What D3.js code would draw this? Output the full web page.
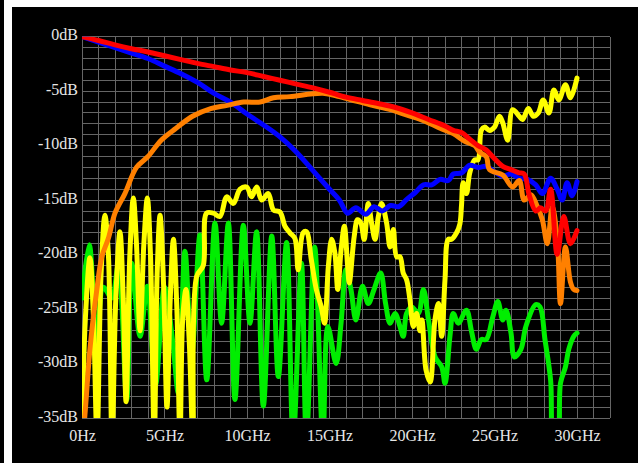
<!DOCTYPE html>
<html>
<head>
<meta charset="utf-8">
<script src="https://cdn.jsdelivr.net/npm/d3@7"></script>
<style>
  html, body { margin: 0; padding: 0; background: #fff; }
  svg { display: block; }
  .tick text { font-family: "Liberation Serif", "Times New Roman", serif; font-size: 16px; fill: #e6e6e6; }
</style>
</head>
<body>
<svg id="chart" width="644" height="463"></svg>
<script>
// Frequency (GHz) / magnitude (dB) pairs for each trace
const redTrace = [[0,0],[1,-0.35],[2,-0.75],[3,-1.1],[4,-1.4],[5,-1.75],[6,-2.1],[7,-2.45],[8,-2.75],[9,-3.05],[10,-3.3],[11,-3.65],[12,-4.0],[13,-4.35],[14,-4.7],[15,-5.1],[16,-5.55],[17,-5.85],[18,-6.15],[19,-6.5],[20,-7.0],[21,-7.6],[22,-8.2],[22.5,-8.6],[23,-8.8],[23.5,-9.4],[24,-10.0],[24.5,-10.4],[25,-11.2],[25.5,-11.9],[26,-12.2],[26.5,-12.5],[26.8,-12.6],[27.1,-14.5],[27.5,-16.0],[27.8,-15.7],[28.1,-16.0],[28.4,-14.0],[28.8,-20.0],[29.2,-16.5],[29.6,-19.0],[30,-17.8]];

const blueTrace = [[0,0],[1,-0.5],[2,-1.0],[3,-1.5],[4,-2.0],[5,-2.7],[6,-3.4],[7,-4.2],[8,-5.2],[9,-6.0],[10,-7.1],[11,-8.1],[12,-9.2],[13,-10.6],[14,-12.3],[15,-14.0],[15.6,-15.0],[16.1,-16.2],[16.6,-15.7],[17.2,-16.3],[17.7,-15.6],[18.2,-16.0],[18.7,-15.5],[19.2,-15.6],[19.7,-14.9],[20.2,-14.3],[20.7,-13.6],[21.2,-13.6],[21.7,-13.1],[22.2,-13.2],[22.5,-12.6],[23.0,-12.5],[23.5,-11.8],[24.0,-12.0],[24.5,-11.9],[25.0,-12.4],[25.5,-12.8],[26.0,-12.6],[26.5,-13.0],[27.0,-13.1],[27.5,-13.6],[27.9,-14.4],[28.4,-13.0],[28.8,-14.0],[29.1,-15.0],[29.4,-13.4],[29.7,-14.6],[30.0,-13.3]];

const orangeTrace = [[0.05,-37],[0.2,-34.3],[0.5,-28.4],[0.9,-23.2],[1.2,-20.2],[1.6,-18.5],[2.0,-16.2],[2.6,-14.4],[3.3,-12.0],[4.0,-11.0],[4.8,-9.5],[5.7,-8.4],[6.7,-7.3],[7.8,-6.6],[8.8,-6.3],[9.8,-6.0],[10.8,-6.0],[11.6,-5.6],[12.6,-5.5],[14.6,-5.2],[15.6,-5.5],[16.6,-5.9],[17.6,-6.3],[18.7,-6.7],[19.7,-7.2],[20.7,-7.7],[21.7,-8.4],[22.5,-8.9],[23.2,-9.6],[23.8,-10.0],[24.1,-10.6],[24.5,-11.0],[24.7,-12.2],[25.5,-12.7],[26.1,-13.8],[26.5,-13.2],[26.8,-15.0],[27.2,-14.5],[27.6,-15.6],[27.9,-16.8],[28.2,-19.0],[28.5,-15.6],[28.8,-18.5],[29.0,-24.5],[29.3,-19.3],[29.6,-22.5],[29.8,-23.2],[30.0,-23.3]];

const yellowTrace = [[0.0,-37],[0.2,-26],[0.48,-20.3],[0.7,-26],[0.91,-37],[1.15,-22],[1.39,-16.4],[1.6,-20],[1.82,-37],[2.05,-24],[2.3,-17.9],[2.5,-24],[2.67,-33.5],[2.9,-20],[3.11,-14.8],[3.3,-19],[3.52,-27],[3.75,-19],[3.96,-14.8],[4.15,-20],[4.38,-37],[4.55,-22],[4.73,-16.4],[4.95,-23],[5.15,-34],[5.35,-24],[5.54,-18.6],[5.75,-25],[5.94,-37],[6.1,-26],[6.3,-23.2],[6.5,-28],[6.73,-37],[6.95,-22.0],[7.35,-21.0],[7.55,-16.2],[7.96,-16.2],[8.36,-16.5],[8.77,-14.7],[9.17,-15.3],[9.58,-14.0],[9.98,-13.8],[10.28,-14.7],[10.58,-13.8],[10.89,-15.0],[11.29,-14.4],[11.6,-15.9],[12.0,-16.1],[12.3,-17.4],[12.6,-18.0],[12.9,-18.5],[13.1,-21.4],[13.4,-18.0],[13.6,-17.9],[13.9,-20.5],[14.2,-23.2],[14.5,-24.8],[14.7,-26.3],[14.93,-21.1],[15.13,-18.6],[15.33,-19.9],[15.5,-23.2],[15.7,-19.6],[15.9,-17.4],[16.1,-21.1],[16.2,-22.6],[16.5,-18.3],[16.7,-16.8],[16.9,-17.1],[17.1,-18.6],[17.35,-15.3],[17.55,-17.1],[17.76,-18.6],[17.96,-16.5],[18.16,-15.3],[18.46,-17.1],[18.67,-19.3],[18.87,-17.7],[19.07,-20.2],[19.27,-20.2],[19.47,-21.7],[19.67,-22.3],[19.88,-24.2],[20.08,-26.6],[20.28,-25.4],[20.48,-27.0],[20.6,-26.0],[20.85,-30.6],[21.1,-31.7],[21.39,-26.0],[21.6,-24.5],[21.8,-27.5],[22.0,-22.3],[22.2,-18.6],[22.4,-18.6],[22.7,-18.0],[22.9,-17.2],[23.0,-15.5],[23.1,-13.4],[23.3,-14.4],[23.5,-12.5],[23.8,-11.3],[24.0,-11.3],[24.2,-8.6],[24.4,-8.3],[24.7,-8.6],[25.0,-8.3],[25.3,-7.3],[25.5,-7.9],[25.8,-9.5],[26.1,-6.7],[26.5,-7.3],[26.7,-7.6],[27.05,-6.6],[27.35,-7.3],[27.65,-7.0],[27.95,-5.8],[28.3,-7.0],[28.6,-4.9],[28.9,-5.8],[29.3,-4.4],[29.6,-5.6],[30.0,-3.8]];

const greenTrace = [[0,-24],[0.44,-19.1],[0.89,-28],[1.3,-23],[1.8,-24],[2.2,-21],[2.71,-33.3],[3.01,-20.8],[3.52,-27.5],[3.96,-22.9],[4.45,-32],[5.0,-23],[5.5,-28],[5.84,-32.7],[6.24,-19.7],[6.65,-29],[7.15,-18.2],[7.56,-31.5],[8.06,-17.1],[8.46,-26.3],[8.87,-17.1],[9.27,-33.3],[9.78,-17.3],[10.18,-26.3],[10.58,-17.9],[10.99,-33.9],[11.5,-18.3],[11.9,-31.2],[12.4,-18.9],[12.8,-37],[13.3,-20.8],[13.6,-37],[14.1,-19.3],[14.6,-37],[14.9,-26.6],[15.4,-30.0],[15.7,-26.3],[16.0,-21.4],[16.3,-23.2],[16.6,-26.0],[17.0,-22.9],[17.35,-24.5],[17.7,-23.2],[18.1,-21.7],[18.4,-24.5],[18.67,-26.3],[18.97,-25.4],[19.27,-26.6],[19.47,-27.5],[19.67,-25.4],[19.98,-24.8],[20.38,-25.4],[20.69,-23.2],[21.0,-26.0],[21.4,-29.4],[21.8,-30.3],[22.0,-31.8],[22.3,-27.5],[22.5,-25.4],[22.8,-26.3],[23.3,-25.1],[23.6,-27.0],[23.9,-28.7],[24.2,-27.8],[24.5,-27.8],[24.9,-25.7],[25.2,-24.3],[25.5,-26.0],[25.7,-25.1],[26.0,-27.2],[26.2,-29.4],[26.6,-28.7],[26.9,-26.6],[27.5,-24.6],[27.76,-24.8],[28.06,-27.8],[28.4,-31.5],[28.6,-37],[28.8,-37],[29.0,-31.8],[29.3,-30.3],[29.5,-28.7],[29.8,-27.5],[30.0,-27.2]];

// Axis tick values and their labels
const xTickValues = [0, 5, 10, 15, 20, 25, 30];
const xTickLabels = ["0Hz", "5GHz", "10GHz", "15GHz", "20GHz", "25GHz", "30GHz"];
const yTickValues = [0, -5, -10, -15, -20, -25, -30, -35];
const yTickLabels = ["0dB", "-5dB", "-10dB", "-15dB", "-20dB", "-25dB", "-30dB", "-35dB"];

const svg = d3.select("#chart");

// Dark panel and the thin dark strip along the left edge
svg.append("rect").attr("x", 0).attr("y", 0).attr("width", 4).attr("height", 463).attr("fill", "#000");
svg.append("rect").attr("x", 12).attr("y", 7).attr("width", 626).attr("height", 456).attr("fill", "#000");

const plot = { left: 82, right: 610, top: 36.7, bottom: 418 };
const x = d3.scaleLinear().domain([0, 32]).range([plot.left, plot.right]);
const y = d3.scaleLinear().domain([0, -35]).range([plot.top, plot.bottom]);

// 1 GHz x 1 dB grid
const grid = svg.append("g").attr("stroke", "#666").attr("stroke-width", 1).attr("shape-rendering", "crispEdges");
grid.selectAll("line.v").data(d3.range(0, 33, 1)).join("line")
  .attr("class", "v")
  .attr("x1", d => x(d)).attr("x2", d => x(d))
  .attr("y1", plot.top).attr("y2", plot.bottom);
grid.selectAll("line.h").data(d3.range(0, -36, -1)).join("line")
  .attr("class", "h")
  .attr("x1", plot.left).attr("x2", plot.right)
  .attr("y1", d => y(d)).attr("y2", d => y(d));

// Axes (labels only)
const xAxis = d3.axisBottom(x).tickValues(xTickValues)
  .tickFormat((d, i) => xTickLabels[i]).tickSize(0).tickPadding(0);
svg.append("g").attr("transform", `translate(0,${plot.bottom + 12})`).call(xAxis)
  .call(g => g.select(".domain").remove())
  .selectAll("text").attr("dy", "0.71em");

const yAxis = d3.axisLeft(y).tickValues(yTickValues)
  .tickFormat((d, i) => yTickLabels[i]).tickSize(0).tickPadding(4);
svg.append("g").attr("transform", `translate(${plot.left},0)`).call(yAxis)
  .call(g => g.select(".domain").remove())
  .selectAll("text").attr("dy", "0.2em");

// Traces, clipped to the plot area
svg.append("clipPath").attr("id", "plotClip").append("rect")
  .attr("x", plot.left).attr("y", plot.top)
  .attr("width", plot.right - plot.left).attr("height", plot.bottom - plot.top);

const line = d3.line().x(d => x(d[0])).y(d => y(d[1])).curve(d3.curveCatmullRom.alpha(0.5));

const traces = [
  { data: greenTrace, color: "#00ee00" },
  { data: yellowTrace, color: "#ffff00" },
  { data: blueTrace, color: "#0000ff" },
  { data: orangeTrace, color: "#ff8000" },
  { data: redTrace, color: "#ff0000" }
];

svg.append("g").attr("clip-path", "url(#plotClip)")
  .selectAll("path").data(traces).join("path")
  .attr("d", d => line(d.data))
  .attr("fill", "none")
  .attr("stroke", d => d.color)
  .attr("stroke-width", 5)
  .attr("stroke-linejoin", "round")
  .attr("stroke-linecap", "round");
</script>
</body>
</html>
